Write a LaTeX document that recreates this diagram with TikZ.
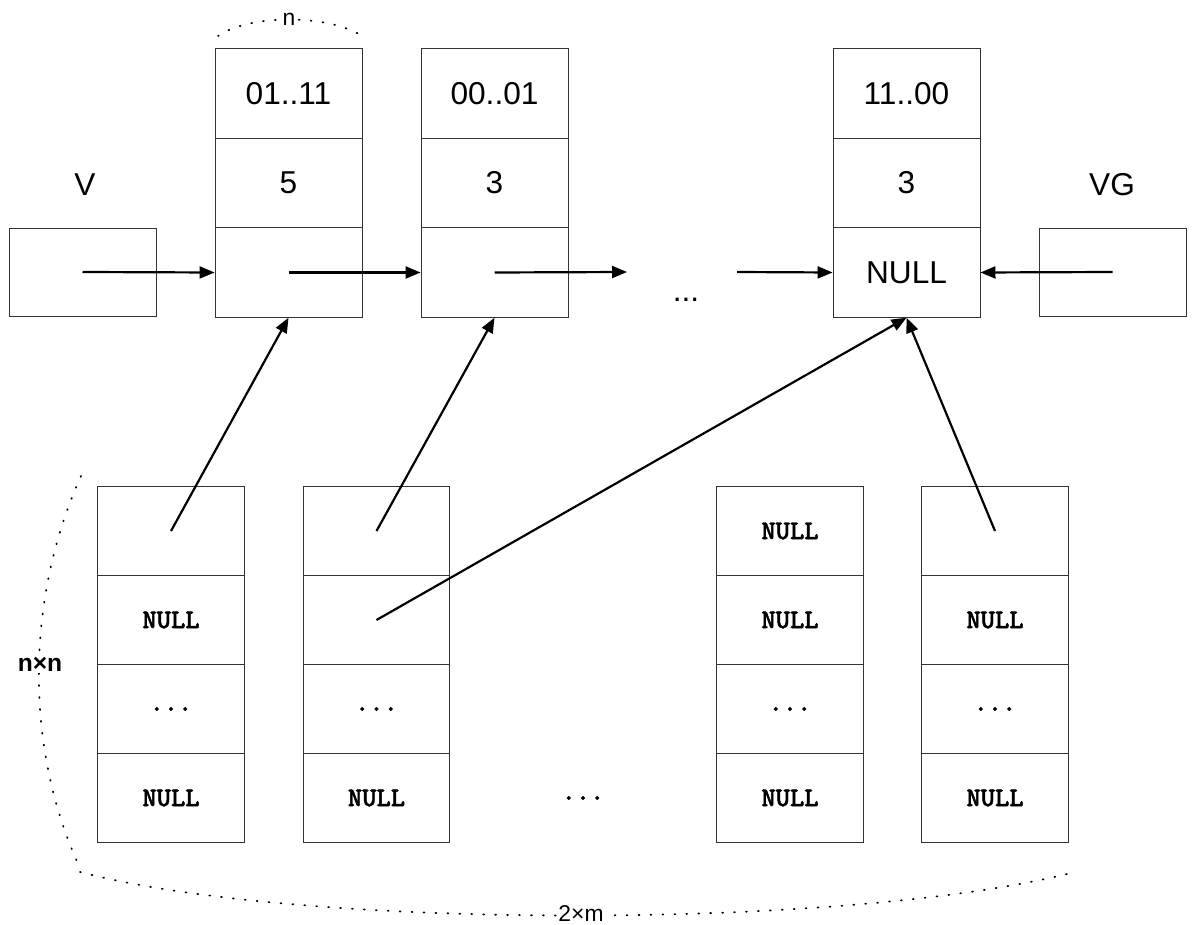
\documentclass[tikz,border=0pt]{standalone}
\usepackage{fontspec}
\setmainfont{Liberation Sans}
\newfontfamily\cellmono[FakeBold=1.6]{lmmonolt10-bold.otf}
\usetikzlibrary{arrows.meta}
\tikzset{
  cell/.style={draw=black!80, line width=0.55pt, minimum width=2.94cm, minimum height=1.79cm,
               inner sep=0pt, font=\fontsize{18}{20}\selectfont},
  bcell/.style={draw=black!80, line width=0.55pt, minimum width=2.93cm, minimum height=1.78cm,
                inner sep=0pt, font=\cellmono\fontsize{15.5}{17}\selectfont},
  lbl/.style={inner sep=0pt, font=\fontsize{18}{20}\selectfont},
  ptr/.style={line width=1.25pt, -{Triangle[length=0.3cm, width=0.24cm]}},
  dotarc/.style={line width=1pt, dash pattern=on 0.5pt off 6.3pt, line cap=round},
  brlbl/.style={fill=white, inner sep=1pt, font=\fontsize{13}{15}\selectfont}
}
\begin{document}
\begin{tikzpicture}[x=0.02cm, y=-0.02cm]
  \useasboundingbox[fill=white] (0,0) rectangle (1192,925);

  % list heads
  \node[lbl] (vlabel) at (85,185) {V};
  \node[cell, minimum height=1.76cm] (v) at (82.5,272) {};
  \node[lbl] (vglabel) at (1112,185) {VG};
  \node[cell, minimum height=1.76cm] (vg) at (1112.5,272) {};

  % list elements: code, count, next pointer
  \node[cell] (a1) at (288.5,93.5) {01..11};
  \node[cell] (a2) at (288.5,183) {5};
  \node[cell] (a3) at (288.5,272.5) {};
  \node[cell] (b1) at (494.5,93.5) {00..01};
  \node[cell] (b2) at (494.5,183) {3};
  \node[cell] (b3) at (494.5,272.5) {};
  \node[cell] (c1) at (906.5,93.5) {11..00};
  \node[cell] (c2) at (906.5,183) {3};
  \node[cell] (c3) at (906.5,272.5) {NULL};

  \node[lbl] (midgap) at (686,300) {...};
  \coordinate (gapL) at (627,272);
  \coordinate (gapR) at (737,272);

  % next-pointer chain
  \draw[ptr] (v.center) -- (a3.west);
  \draw[ptr] (a3.center) -- (b3.west);
  \draw[ptr] (b3.center) -- (gapL);
  \draw[ptr] (gapR) -- (c3.west);
  \draw[ptr] (vg.center) -- (c3.east);

  % table columns
  \node[bcell] (p1) at (171,531) {};
  \node[bcell] (p2) at (171,620) {NULL};
  \node[bcell] (p3) at (171,709) {...};
  \node[bcell] (p4) at (171,798) {NULL};

  \node[bcell] (q1) at (376.5,531) {};
  \node[bcell] (q2) at (376.5,620) {};
  \node[bcell] (q3) at (376.5,709) {...};
  \node[bcell] (q4) at (376.5,798) {NULL};

  \node[bcell] (r1) at (790,531) {NULL};
  \node[bcell] (r2) at (790,620) {NULL};
  \node[bcell] (r3) at (790,709) {...};
  \node[bcell] (r4) at (790,798) {NULL};

  \node[bcell] (s1) at (995,531) {};
  \node[bcell] (s2) at (995,620) {NULL};
  \node[bcell] (s3) at (995,709) {...};
  \node[bcell] (s4) at (995,798) {NULL};

  \node[bcell, draw=none, minimum width=0pt, minimum height=0pt] (bgap) at (583,798) {...};

  % table entries pointing into the list
  \draw[ptr] (p1.center) -- (a3.south);
  \draw[ptr] (q1.center) -- (b3.south);
  \draw[ptr] (q2.center) -- (c3.south);
  \draw[ptr] (s1.center) -- (c3.south);

  % dimension braces
  \draw[dotarc] (218,36) .. controls (250,14) and (328,14) .. (362,36);
  \node[brlbl] (nlbl) at (289,19) {n};
  \draw[dotarc] (81,476) .. controls (25,600) and (25,750) .. (80,868);
  \node[brlbl, font=\bfseries\fontsize{14}{16}\selectfont] (nnlbl) at (40,664) {n×n};
  \draw[dotarc] (80,872) .. controls (300,930) and (850,930) .. (1075,872);
  \node[brlbl] (mlbl) at (581,914) {2×m};
\end{tikzpicture}
\end{document}
